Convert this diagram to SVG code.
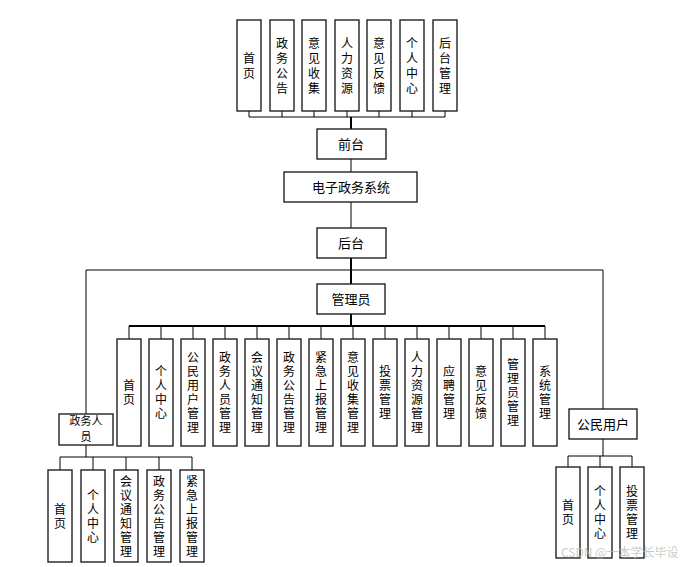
<svg xmlns="http://www.w3.org/2000/svg" width="700" height="567" viewBox="0 0 700 567">
<style>
.b{fill:#fff;stroke:#222;stroke-width:1.4}
.t{font-family:"Noto Sans CJK SC","Noto Sans",sans-serif;font-size:12px;fill:#000;text-anchor:middle}
.h{font-size:13px}
.s{font-size:11px}
.v{writing-mode:vertical-rl;letter-spacing:2px}
.v3{letter-spacing:3px}
.c{fill:none;stroke:#000;stroke-width:1}
.k{fill:none;stroke:#000;stroke-width:2}
.w{font-family:"Noto Sans CJK SC","Noto Sans",sans-serif;font-size:12px;fill:#bbb;fill-opacity:0.8}
</style>
<rect width="700" height="567" fill="#fff"/>
<g id="connectors">
<path class="c" d="M249 111V117M282 111V117M314 111V117M347 111V117M379 111V117M412 111V117M445 111V117M249 117H445"/>
<path class="k" d="M351 117V129"/>
<path class="c" d="M351 159V172M351 202V228"/>
<path class="k" d="M351 258V284"/>
<path class="c" d="M86 270H603M86 270V414M603 270V409"/>
<path class="k" d="M351 314V326M129 326H545"/>
<path class="c" d="M129 326V339M161 326V339M193 326V339M225 326V339M257 326V339M289 326V339M321 326V339M353 326V339M385 326V339M417 326V339M449 326V339M481 326V339M513 326V339M545 326V339"/>
<path class="c" d="M86 445V457M60 457H192M60 457V470M93 457V470M126 457V470M159 457V470M192 457V470"/>
<path class="c" d="M603 439V456M568 456H632M568 456V467M600 456V467M632 456V467"/>
</g>
<g id="front-children">
<g id="n-shouye"><rect class="b" x="237" y="20" width="24" height="91"/><text class="t v v3" x="249" y="67">首页</text></g>
<g id="n-zwgg"><rect class="b" x="270" y="20" width="24" height="91"/><text class="t v v3" x="282" y="67">政务公告</text></g>
<g id="n-yjsj"><rect class="b" x="302" y="20" width="24" height="91"/><text class="t v v3" x="314" y="67">意见收集</text></g>
<g id="n-rlzy"><rect class="b" x="335" y="20" width="24" height="91"/><text class="t v v3" x="347" y="67">人力资源</text></g>
<g id="n-yjfk"><rect class="b" x="367" y="20" width="24" height="91"/><text class="t v v3" x="379" y="67">意见反馈</text></g>
<g id="n-grzx"><rect class="b" x="400" y="20" width="24" height="91"/><text class="t v v3" x="412" y="67">个人中心</text></g>
<g id="n-htgl"><rect class="b" x="433" y="20" width="24" height="91"/><text class="t v v3" x="445" y="67">后台管理</text></g>
</g>
<g id="n-qiantai"><rect class="b" x="317" y="129" width="69" height="30"/><text class="t h" x="351" y="149">前台</text></g>
<g id="n-system"><rect class="b" x="284" y="172" width="133" height="30"/><text class="t h" x="351" y="192">电子政务系统</text></g>
<g id="n-houtai"><rect class="b" x="317" y="228" width="69" height="30"/><text class="t h" x="351" y="248">后台</text></g>
<g id="n-admin"><rect class="b" x="317" y="284" width="68" height="30"/><text class="t h" x="351" y="304">管理员</text></g>
<g id="admin-children">
<g><rect class="b" x="117" y="339" width="24" height="107"/><text class="t v" x="129" y="393.5">首页</text></g>
<g><rect class="b" x="149" y="339" width="24" height="107"/><text class="t v" x="161" y="393.5">个人中心</text></g>
<g><rect class="b" x="181" y="339" width="24" height="107"/><text class="t v" x="193" y="393.5">公民用户管理</text></g>
<g><rect class="b" x="213" y="339" width="24" height="107"/><text class="t v" x="225" y="393.5">政务人员管理</text></g>
<g><rect class="b" x="245" y="339" width="24" height="107"/><text class="t v" x="257" y="393.5">会议通知管理</text></g>
<g><rect class="b" x="277" y="339" width="24" height="107"/><text class="t v" x="289" y="393.5">政务公告管理</text></g>
<g><rect class="b" x="309" y="339" width="24" height="107"/><text class="t v" x="321" y="393.5">紧急上报管理</text></g>
<g><rect class="b" x="341" y="339" width="24" height="107"/><text class="t v" x="353" y="393.5">意见收集管理</text></g>
<g><rect class="b" x="373" y="339" width="24" height="107"/><text class="t v" x="385" y="393.5">投票管理</text></g>
<g><rect class="b" x="405" y="339" width="24" height="107"/><text class="t v" x="417" y="393.5">人力资源管理</text></g>
<g><rect class="b" x="437" y="339" width="24" height="107"/><text class="t v" x="449" y="393.5">应聘管理</text></g>
<g><rect class="b" x="469" y="339" width="24" height="107"/><text class="t v" x="481" y="393.5">意见反馈</text></g>
<g><rect class="b" x="501" y="339" width="24" height="107"/><text class="t v" x="513" y="393.5">管理员管理</text></g>
<g><rect class="b" x="533" y="339" width="24" height="107"/><text class="t v" x="545" y="393.5">系统管理</text></g>
</g>
<g id="n-zwry"><rect class="b" x="59" y="414" width="54" height="31"/><text class="t s" x="86" y="425">政务人</text><text class="t s" x="86" y="441">员</text></g>
<g id="zwry-children">
<g><rect class="b" x="48" y="470" width="24" height="92"/><text class="t v" x="60" y="517">首页</text></g>
<g><rect class="b" x="81" y="470" width="24" height="92"/><text class="t v" x="93" y="517">个人中心</text></g>
<g><rect class="b" x="114" y="470" width="24" height="92"/><text class="t v" x="126" y="517">会议通知管理</text></g>
<g><rect class="b" x="147" y="470" width="24" height="92"/><text class="t v" x="159" y="517">政务公告管理</text></g>
<g><rect class="b" x="180" y="470" width="24" height="92"/><text class="t v" x="192" y="517">紧急上报管理</text></g>
</g>
<g id="n-gmyh"><rect class="b" x="569" y="409" width="68" height="30"/><text class="t h" x="603" y="429">公民用户</text></g>
<g id="gmyh-children">
<g><rect class="b" x="556" y="467" width="24" height="91"/><text class="t v" x="568" y="513.5">首页</text></g>
<g><rect class="b" x="588" y="467" width="24" height="91"/><text class="t v" x="600" y="513.5">个人中心</text></g>
<g><rect class="b" x="620" y="467" width="24" height="91"/><text class="t v" x="632" y="513.5">投票管理</text></g>
</g>
<text class="w" x="561" y="557">CSDN @一本学长毕设</text>
</svg>
